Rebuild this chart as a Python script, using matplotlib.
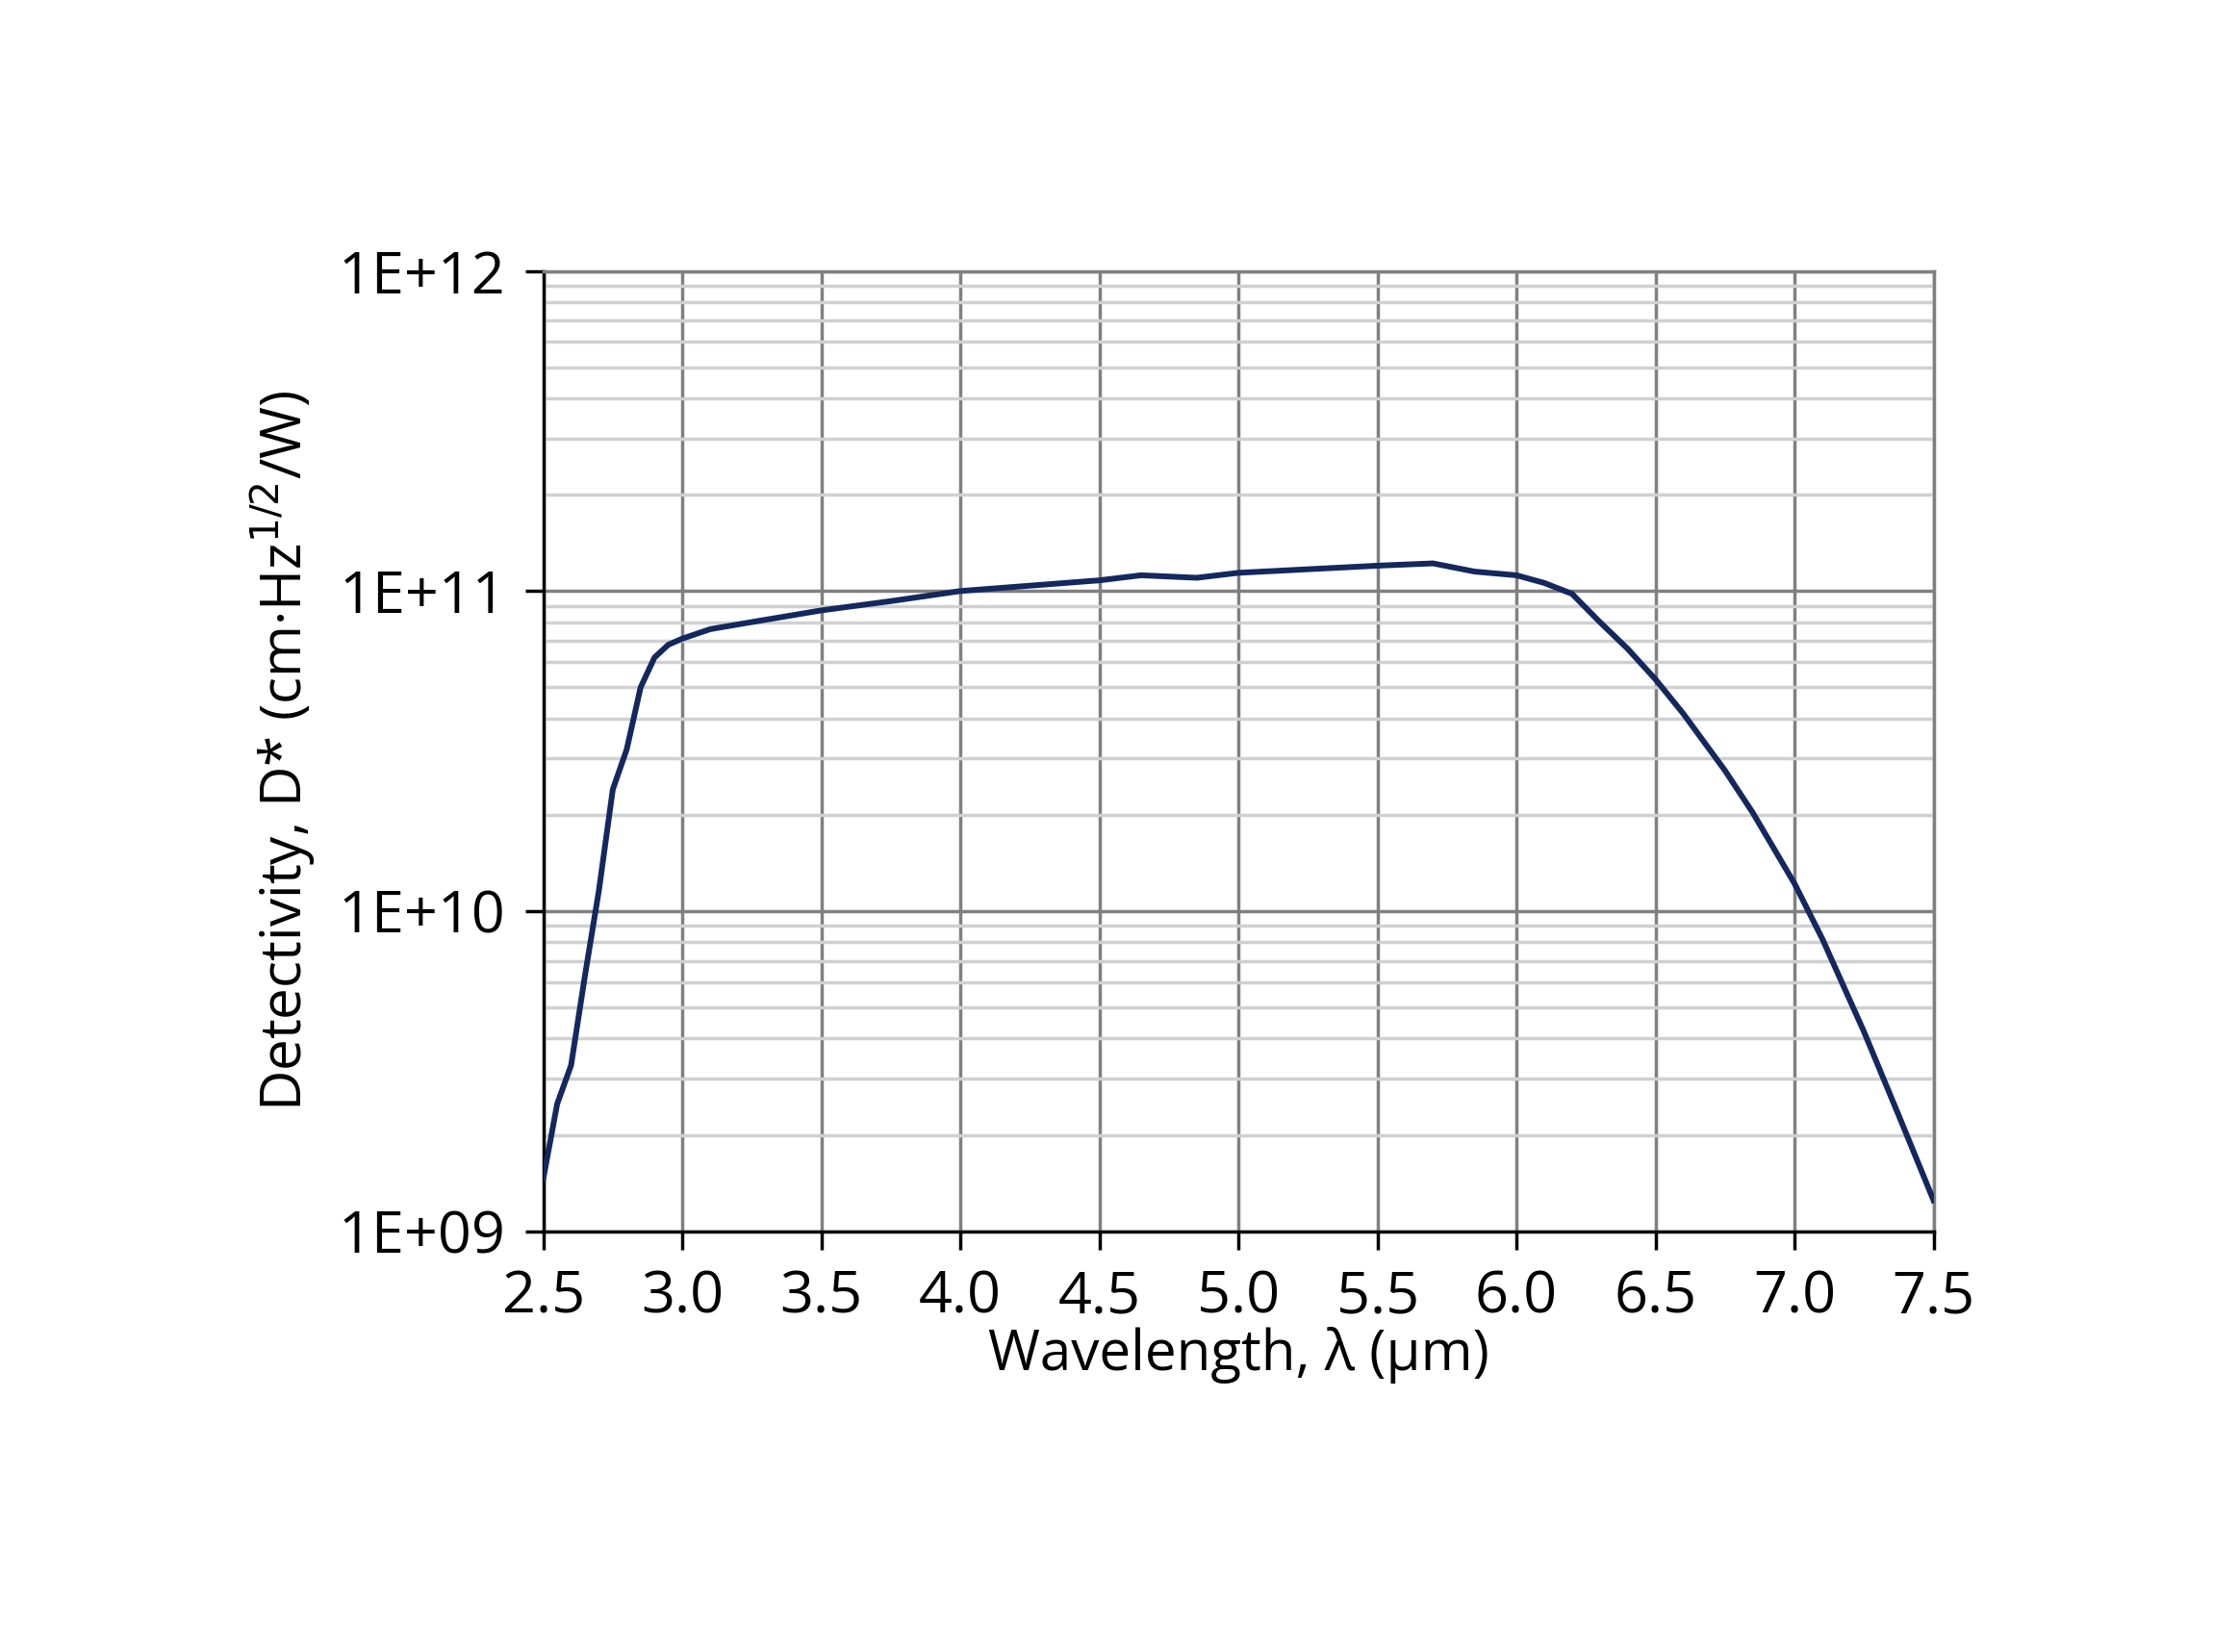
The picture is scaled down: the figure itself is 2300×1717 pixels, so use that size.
import matplotlib.pyplot as plt
from matplotlib.ticker import LogLocator, FixedLocator

plt.rcParams['font.family'] = ['Open Sans', 'DejaVu Sans']

# data
wavelength = [2.5, 2.55, 2.6, 2.65, 2.7, 2.75, 2.8, 2.85, 2.9, 2.95, 3.0, 3.1, 3.25,
              3.5, 3.75, 4.0, 4.5, 4.65, 4.85, 5.0, 5.5, 5.7, 5.85, 6.0, 6.1, 6.2,
              6.3, 6.4, 6.5, 6.6, 6.75, 6.85, 7.0, 7.1, 7.25, 7.375, 7.5]
detectivity = [1.46e9, 2.5e9, 3.3e9, 6.3e9, 1.16e10, 2.4e10, 3.2e10, 5.0e10, 6.2e10,
               6.8e10, 7.1e10, 7.6e10, 8.0e10, 8.7e10, 9.3e10, 1.0e11, 1.08e11,
               1.12e11, 1.10e11, 1.14e11, 1.2e11, 1.22e11, 1.15e11, 1.12e11, 1.06e11,
               0.98e11, 8.0e10, 6.6e10, 5.3e10, 4.14e10, 2.75e10, 2.03e10, 1.22e10,
               8.2e9, 4.2e9, 2.3e9, 1.25e9]
xticks = [2.5, 3.0, 3.5, 4.0, 4.5, 5.0, 5.5, 6.0, 6.5, 7.0, 7.5]
yticks = [1e9, 1e10, 1e11, 1e12]
ylabels = ['1E+09', '1E+10', '1E+11', '1E+12']

fig = plt.figure(figsize=(23, 17.17), dpi=100)
ax = fig.add_axes([0.2455, 0.2547, 0.6282, 0.5813])

ax.plot(wavelength, detectivity, color='#14285e', lw=4.3, zorder=3,
        solid_joinstyle='round')

ax.set_yscale('log')
ax.set_xlim(2.5, 7.5)
ax.set_ylim(1e9, 1e12)
ax.set_xticks(xticks)
ax.set_xticklabels([f'{t:.1f}' for t in xticks])
ax.yaxis.set_major_locator(FixedLocator(yticks))
ax.set_yticklabels(ylabels)
ax.yaxis.set_minor_locator(LogLocator(base=10, subs=range(2, 10)))
ax.yaxis.set_minor_formatter(plt.NullFormatter())

ax.grid(True, which='major', color='#808080', lw=2.5)
ax.grid(True, which='minor', axis='y', color='#d0d0d0', lw=2.5)
ax.set_axisbelow(True)

for s in ['top', 'right']:
    ax.spines[s].set_color('#808080')
    ax.spines[s].set_linewidth(2.5)
for s in ['left', 'bottom']:
    ax.spines[s].set_color('black')
    ax.spines[s].set_linewidth(2.5)

ax.tick_params(which='major', direction='out', length=14, width=2.5, labelsize=44, pad=14)
ax.tick_params(which='minor', length=0)

ax.set_xlabel('Wavelength, λ (µm)', fontsize=42, labelpad=0)
ax.set_ylabel('Detectivity, D* (cm·Hz$^{1/2}$/W)', fontsize=42, labelpad=16)

fig.savefig('out.png', dpi=100)
